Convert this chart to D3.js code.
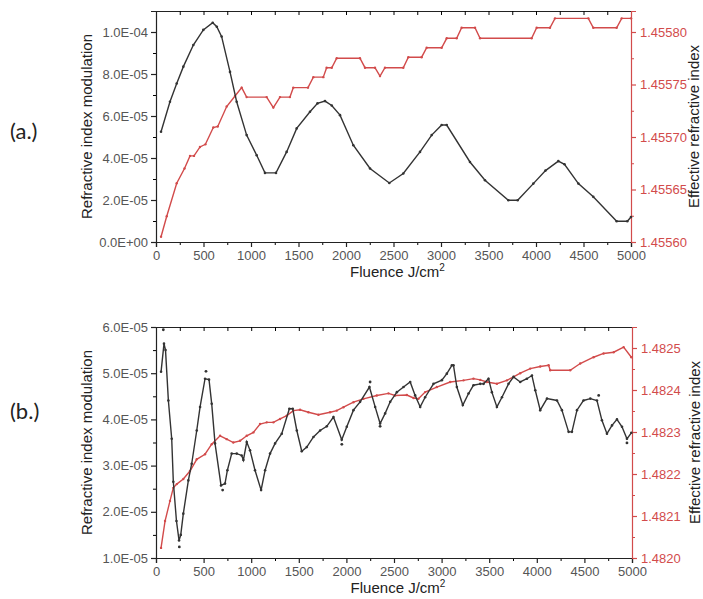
<!DOCTYPE html>
<html lang="en">
<head>
    <meta charset="UTF-8">
    <title>Refractive index vs fluence</title>
    <script src="https://d3js.org/d3.v7.min.js"></script>
    <style>
        body { margin: 0; background: #fff; }
        .tick text { font-family: "Liberation Sans", Arial, sans-serif; font-size: 13px; }
        .title { font-family: "Liberation Sans", Arial, sans-serif; font-size: 15px; fill: #222; }
        .panel-label { font-family: Lato, "Open Sans", sans-serif; font-size: 22px; fill: #222; }
    </style>
</head>
<body>
<svg width="703" height="599"></svg>
<script>
    // ---- panel (a.) ----
    const aModFluence = [53, 147, 218, 288, 393, 498, 597, 640, 691, 779, 849, 954, 1060, 1147, 1263, 1375, 1481, 1621, 1700, 1779,
        1850, 1937, 2077, 2253, 2456, 2603, 2779, 2902, 3007, 3060, 3305, 3463, 3709, 3807, 3972, 4100, 4235, 4300, 4446, 4603,
        4849, 4961, 5000];
    const aMod = [5.25e-5, 6.68e-5, 7.55e-5, 8.35e-5, 9.38e-5, 10.1e-5, 10.44e-5, 10.25e-5, 9.78e-5, 8.1e-5, 6.68e-5, 5.09e-5,
        4.13e-5, 3.29e-5, 3.29e-5, 4.29e-5, 5.41e-5, 6.2e-5, 6.6e-5, 6.71e-5, 6.5e-5, 6.04e-5, 4.61e-5, 3.5e-5, 2.81e-5, 3.26e-5,
        4.29e-5, 5.09e-5, 5.57e-5, 5.57e-5, 3.81e-5, 2.94e-5, 1.99e-5, 1.99e-5, 2.78e-5, 3.4e-5, 3.85e-5, 3.7e-5, 2.78e-5,
        2.15e-5, 0.99e-5, 0.99e-5, 1.19e-5];

    const aRiFluence = [53, 113, 218, 300, 358, 400, 463, 520, 603, 650, 744, 832, 902, 954, 1165, 1235, 1305, 1410, 1445, 1600,
        1656, 1761, 1796, 1850, 1902, 2147, 2200, 2305, 2358, 2410, 2603, 2656, 2796, 2849, 3007, 3060, 3165, 3217, 3358, 3411,
        3954, 4007, 4147, 4200, 4551, 4603, 4849, 4902, 5000];
    const aRi = [1.455605, 1.4556245, 1.455656, 1.455670, 1.455682, 1.455682, 1.4556905, 1.455693, 1.455709, 1.455710,
        1.455729, 1.455739, 1.455747, 1.455738, 1.455738, 1.455728, 1.455738, 1.455738, 1.455747, 1.455747, 1.455757, 1.455757,
        1.455766, 1.455766, 1.455775, 1.455775, 1.455766, 1.455766, 1.455758, 1.455766, 1.455766, 1.455776, 1.455776, 1.455785,
        1.455785, 1.455794, 1.455794, 1.455804, 1.455804, 1.455794, 1.455794, 1.455804, 1.455804, 1.455813, 1.455813, 1.455804,
        1.455804, 1.455813, 1.455813];

    // ---- panel (b.) ----
    const bModFluence = [53, 84, 100, 130, 165, 182, 215, 242, 260, 287, 340, 375, 428, 463, 515, 557, 585, 620, 683, 725, 750,
        795, 848, 900, 918, 953, 988, 1040, 1104, 1146, 1198, 1251, 1321, 1401, 1436, 1479, 1531, 1584, 1654, 1724, 1794, 1864,
        1951, 2004, 2074, 2144, 2242, 2302, 2354, 2407, 2460, 2530, 2600, 2670, 2722, 2775, 2827, 2915, 3003, 3055, 3108, 3125,
        3160, 3223, 3283, 3335, 3406, 3441, 3493, 3528, 3581, 3634, 3703, 3756, 3826, 3896, 3949, 3984, 4036, 4107, 4212, 4264,
        4334, 4369, 4422, 4491, 4562, 4632, 4684, 4737, 4790, 4842, 4895, 4947, 4993];
    const bMod = [5.03e-5, 5.64e-5, 5.5e-5, 4.41e-5, 3.58e-5, 2.65e-5, 1.8e-5, 1.38e-5, 1.5e-5, 1.96e-5, 2.68e-5, 3.04e-5,
        3.76e-5, 4.27e-5, 4.88e-5, 4.86e-5, 4.34e-5, 3.48e-5, 2.57e-5, 2.61e-5, 2.9e-5, 3.26e-5, 3.26e-5, 3.22e-5, 3.12e-5,
        3.51e-5, 3.33e-5, 2.9e-5, 2.47e-5, 2.9e-5, 3.26e-5, 3.48e-5, 3.69e-5, 4.23e-5, 4.23e-5, 3.76e-5, 3.31e-5, 3.4e-5,
        3.62e-5, 3.76e-5, 3.85e-5, 4.05e-5, 3.56e-5, 3.84e-5, 4.2e-5, 4.38e-5, 4.7e-5, 4.27e-5, 3.91e-5, 4.13e-5, 4.38e-5,
        4.59e-5, 4.7e-5, 4.81e-5, 4.52e-5, 4.27e-5, 4.48e-5, 4.77e-5, 4.85e-5, 4.99e-5, 5.17e-5, 5.17e-5, 4.7e-5, 4.31e-5,
        4.56e-5, 4.74e-5, 4.77e-5, 4.77e-5, 4.88e-5, 4.59e-5, 4.27e-5, 4.48e-5, 4.77e-5, 4.92e-5, 4.81e-5, 4.88e-5, 4.95e-5,
        4.63e-5, 4.2e-5, 4.45e-5, 4.41e-5, 4.2e-5, 3.73e-5, 3.73e-5, 4.2e-5, 4.41e-5, 4.45e-5, 4.41e-5, 3.98e-5, 3.69e-5,
        3.87e-5, 4.0e-5, 3.84e-5, 3.58e-5, 3.71e-5];
    // stray points sitting off the line
    const bStrayFluence = [77, 245, 525, 700, 1952, 2249, 2354, 4650, 4947];
    const bStrayMod = [5.94e-5, 1.24e-5, 5.04e-5, 2.47e-5, 3.46e-5, 4.81e-5, 3.85e-5, 4.52e-5, 3.49e-5];

    const bRiFluence = [53, 95, 147, 182, 218, 287, 357, 428, 515, 585, 673, 743, 812, 883, 953, 1023, 1093, 1163, 1233, 1303,
        1374, 1443, 1513, 1601, 1706, 1829, 1899, 1969, 2074, 2179, 2319, 2442, 2512, 2635, 2705, 2757, 2827, 2950, 3090, 3230,
        3335, 3406, 3476, 3581, 3686, 3756, 3826, 3931, 4036, 4124, 4141, 4351, 4456, 4596, 4701, 4807, 4912, 4993];
    const bRi = [1.482024, 1.482088, 1.482136, 1.482167, 1.482176, 1.482188, 1.482207, 1.482235, 1.482247, 1.482271,
        1.482291, 1.482283, 1.482275, 1.482279, 1.482291, 1.482299, 1.482319, 1.482323, 1.482323, 1.482331, 1.482339, 1.482351,
        1.482353, 1.482347, 1.482341, 1.482347, 1.482351, 1.482359, 1.482371, 1.482379, 1.482387, 1.482392, 1.482387, 1.482388,
        1.482381, 1.482379, 1.482395, 1.482407, 1.482419, 1.482423, 1.482427, 1.482424, 1.482419, 1.482415, 1.482423, 1.482431,
        1.482440, 1.482451, 1.482456, 1.482459, 1.482447, 1.482447, 1.482463, 1.482478, 1.482487, 1.482490, 1.482502, 1.482478];

    const fluenceTicks = d3.range(0, 5001, 500);
    const aModTicks = [0, 2e-5, 4e-5, 6e-5, 8e-5, 1e-4];
    const aRiTicks = [1.4556, 1.45565, 1.4557, 1.45575, 1.4558];
    const bModTicks = [1e-5, 2e-5, 3e-5, 4e-5, 5e-5, 6e-5];
    const bRiTicks = [1.482, 1.4821, 1.4822, 1.4823, 1.4824, 1.4825];

    const black = "#333", red = "#d24b4b";

    // "1.0E-04" style labels
    function sci(v) {
        const parts = v.toExponential(1).split("e");
        const e = parts[1];
        return parts[0] + "E" + e[0] + e.slice(1).padStart(2, "0");
    }

    const svg = d3.select("svg");

    function panel(opt) {
        const g = svg.append("g").attr("transform", `translate(${opt.left},${opt.top})`);
        const w = opt.width, h = opt.height;

        const x = d3.scaleLinear().domain([0, 5000]).range([0, w]);
        const yL = d3.scaleLinear().domain(opt.modDomain).range([h, 0]);
        const yR = d3.scaleLinear().domain(opt.riDomain).range([h, 0]);

        // minor ticks first
        g.append("g").attr("transform", `translate(0,${h})`)
            .call(d3.axisBottom(x).tickValues(d3.range(250, 5000, 500)).tickSize(3).tickFormat(""))
            .call(a => a.select(".domain").remove());
        g.append("g")
            .call(d3.axisBottom(x).tickValues(d3.range(0, 5001, 250)).tickSize(opt.topTick).tickFormat(""))
            .call(a => a.select(".domain").attr("stroke", "#222"));
        g.append("g")
            .call(d3.axisLeft(yL).tickValues(opt.modMinor).tickSize(3).tickFormat(""))
            .call(a => a.select(".domain").remove());
        g.append("g").attr("transform", `translate(${w},0)`)
            .call(d3.axisRight(yR).tickValues(opt.riMinor).tickSize(3).tickFormat(""))
            .call(a => a.select(".domain").remove())
            .call(a => a.selectAll("line").attr("stroke", red));

        // main axes
        g.append("g").attr("transform", `translate(0,${h})`)
            .call(d3.axisBottom(x).tickValues(fluenceTicks).tickSize(5).tickPadding(4).tickFormat(d3.format("d")))
            .call(a => a.selectAll("text").attr("fill", "#555"))
            .call(a => a.selectAll("line,path").attr("stroke", "#222").attr("stroke-width", 1.2));
        g.append("g")
            .call(d3.axisLeft(yL).tickValues(opt.modTicks).tickSize(5).tickPadding(3).tickFormat(sci))
            .call(a => a.selectAll("text").attr("fill", "#555"))
            .call(a => a.selectAll("line,path").attr("stroke", "#222").attr("stroke-width", 1.2));
        g.append("g").attr("transform", `translate(${w},0)`)
            .call(d3.axisRight(yR).tickValues(opt.riTicks).tickSize(5).tickPadding(4).tickFormat(d3.format(opt.riFormat)))
            .call(a => a.selectAll("text").attr("fill", red))
            .call(a => a.selectAll("line,path").attr("stroke", red).attr("stroke-width", 1.2));

        // red series
        const ri = opt.riFluence.map((f, i) => [f, opt.ri[i]]);
        g.append("path").datum(ri)
            .attr("fill", "none").attr("stroke", red).attr("stroke-width", 1.4)
            .attr("d", d3.line().x(d => x(d[0])).y(d => yR(d[1])));
        g.append("g").selectAll("circle").data(ri).join("circle")
            .attr("cx", d => x(d[0])).attr("cy", d => yR(d[1])).attr("r", 1.2).attr("fill", red);

        // black series
        const mod = opt.modFluence.map((f, i) => [f, opt.mod[i]]);
        g.append("path").datum(mod)
            .attr("fill", "none").attr("stroke", black).attr("stroke-width", 1.4)
            .attr("d", d3.line().x(d => x(d[0])).y(d => yL(d[1])));
        g.append("g").selectAll("circle").data(mod).join("circle")
            .attr("cx", d => x(d[0])).attr("cy", d => yL(d[1])).attr("r", 1.3).attr("fill", black);

        if (opt.strayFluence) {
            g.append("g").selectAll("circle").data(opt.strayFluence).join("circle")
                .attr("cx", d => x(d)).attr("cy", (d, i) => yL(opt.strayMod[i])).attr("r", 1.4).attr("fill", black);
        }

        // titles
        g.append("text").attr("class", "title")
            .attr("transform", `translate(-64,${h / 2}) rotate(-90)`)
            .attr("text-anchor", "middle")
            .text("Refractive index modulation");
        g.append("text").attr("class", "title")
            .attr("transform", `translate(${w + 68},${h / 2}) rotate(-90)`)
            .attr("text-anchor", "middle")
            .text("Effective refractive index");
        const xt = g.append("text").attr("class", "title")
            .attr("x", w / 2 + 4).attr("y", h + 35)
            .attr("text-anchor", "middle")
            .text("Fluence J/cm");
        xt.append("tspan").attr("font-size", 10).attr("dy", -6).text("2");

        svg.append("text").attr("class", "panel-label")
            .attr("x", 10).attr("y", opt.labelY)
            .text(opt.label);
    }

    panel({
        left: 156, top: 11, width: 475, height: 231,
        modDomain: [0, 1.1e-4], riDomain: [1.4556, 1.45582],
        modTicks: aModTicks, modMinor: d3.range(1e-5, 1.1e-4, 2e-5),
        riTicks: aRiTicks, riMinor: [1.455625, 1.455675, 1.455725, 1.455775],
        riFormat: ".5f", topTick: 4,
        modFluence: aModFluence, mod: aMod, riFluence: aRiFluence, ri: aRi,
        label: "(a.)", labelY: 139
    });

    panel({
        left: 156, top: 327, width: 476, height: 231,
        modDomain: [1e-5, 6e-5], riDomain: [1.482, 1.48255],
        modTicks: bModTicks, modMinor: [1.5e-5, 2.5e-5, 3.5e-5, 4.5e-5, 5.5e-5],
        riTicks: bRiTicks, riMinor: [1.48205, 1.48215, 1.48225, 1.48235, 1.48245],
        riFormat: ".4f", topTick: 4,
        modFluence: bModFluence, mod: bMod, riFluence: bRiFluence, ri: bRi,
        strayFluence: bStrayFluence, strayMod: bStrayMod,
        label: "(b.)", labelY: 419
    });
</script>
</body>
</html>
